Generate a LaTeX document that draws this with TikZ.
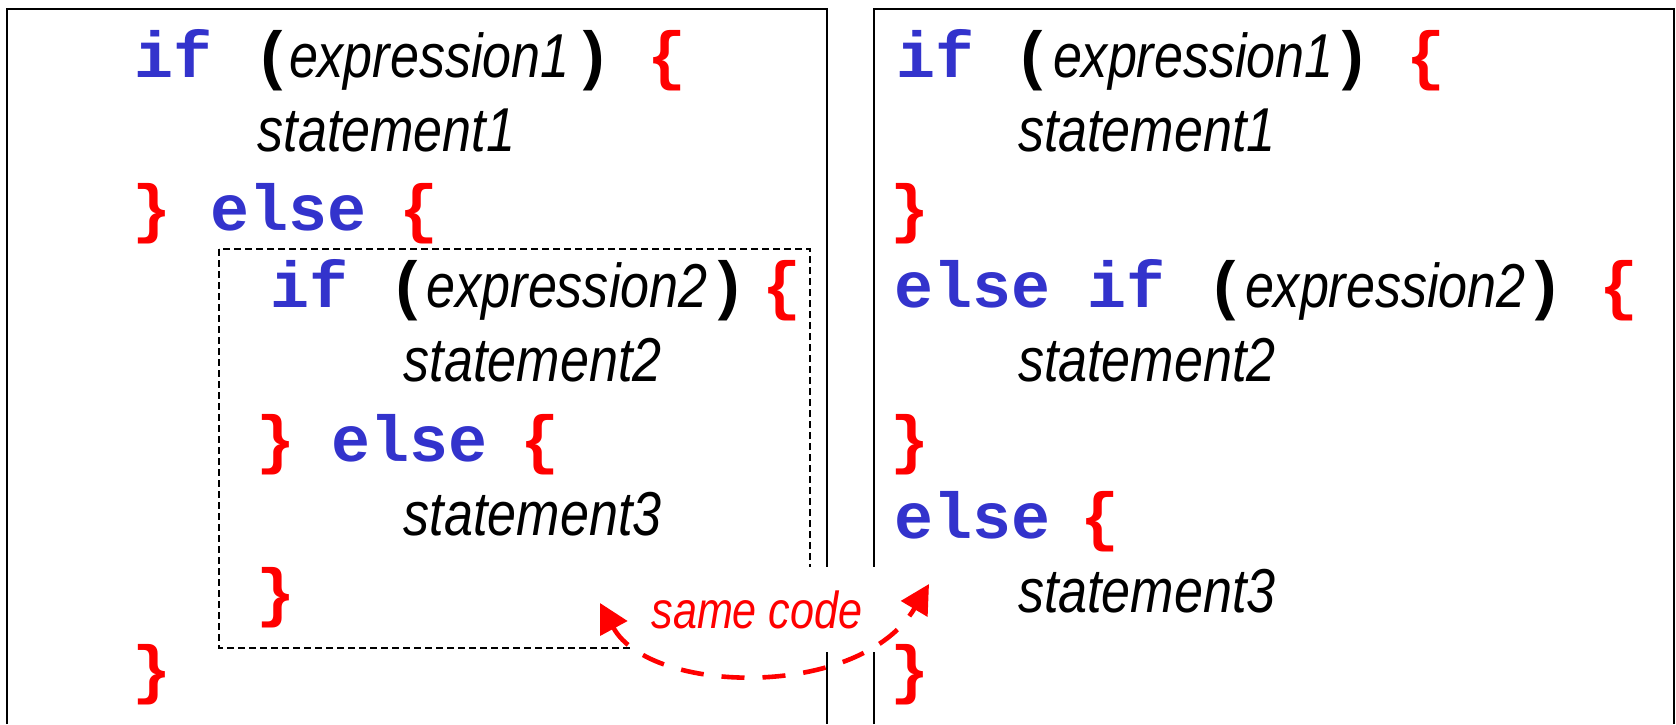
\documentclass[tikz,border=0pt]{standalone}
\usepackage{fontspec}
\usetikzlibrary{arrows.meta}
\newfontfamily\kwfont{Liberation Mono}
\newfontfamily\exfont{Liberation Sans}[FakeStretch=0.84]
\newfontfamily\lblfont{Liberation Sans}[FakeStretch=0.83]
\definecolor{kwblue}{RGB}{51,51,204}
\definecolor{codered}{RGB}{255,0,0}
\begin{document}
\begin{tikzpicture}[x=0.5pt,y=-0.5pt,
  tok/.style={anchor=base west, inner sep=0pt, outer sep=0pt},
  kw/.style={tok, text=kwblue, font=\kwfont\bfseries\fontsize{32.5}{39}\selectfont},
  brc/.style={tok, text=codered, font=\kwfont\bfseries\fontsize{32.5}{39}\selectfont},
  par/.style={tok, text=black, font=\kwfont\bfseries\fontsize{32.5}{39}\selectfont},
  ex/.style={tok, text=black, font=\exfont\itshape\fontsize{31}{37}\selectfont},
  frame/.style={draw=black, line width=1pt},
  dbox/.style={draw=black, line width=0.6pt, dash pattern=on 3.5pt off 2pt},
  lbl/.style={fill=white, inner sep=0pt, minimum width=126.5pt, minimum height=42.5pt,
    text=codered, font=\lblfont\itshape\fontsize{26}{31}\selectfont},
  samearrow/.style={draw=codered, line width=2.3pt, dash pattern=on 11.5pt off 9pt,
    {Triangle[length=14.5pt,width=15pt]}-{Triangle[length=14.5pt,width=15pt]}}
]
\useasboundingbox (0,0) rectangle (1676,724);
\fill[white] (0,0) rectangle (1676,724);

% frames (open at the bottom)
\draw[frame] (7,724) -- (7,9) -- (826.5,9) -- (826.5,724);
\draw[frame] (874,724) -- (874,9) -- (1673.5,9) -- (1673.5,724);
% dashed box round the nested if
\draw[dbox] (219,249) rectangle (810,648);

% ---------- left panel ----------
\node[kw]  (a1if)  at (134.3,77.3) {if};
\node[par] (a1op)  at (253.8,77.3) {(};
\node[ex]  (a1ex)  at (289,77.3)   {expression1};
\node[par] (a1cp)  at (573,77.3)   {)};
\node[brc] (a1ob)  at (647,77.3)   {\{};
\node[ex]  (a2st)  at (257.6,151.7) {statement1};
\node[brc] (a3cb)  at (132.5,230.9) {\}};
\node[kw]  (a3el)  at (210.7,230.9) {else};
\node[brc] (a3ob)  at (399,230.9)   {\{};
\node[kw]  (a4if)  at (270.5,307.7) {if};
\node[par] (a4op)  at (388.5,307.7) {(};
\node[ex]  (a4ex)  at (426.7,307.7) {expression2};
\node[par] (a4cp)  at (708.8,307.7) {)};
\node[brc] (a4ob)  at (762.7,307.7) {\{};
\node[ex]  (a5st)  at (403.8,381.7) {statement2};
\node[brc] (a6cb)  at (256,461.3)   {\}};
\node[kw]  (a6el)  at (331.6,461.3) {else};
\node[brc] (a6ob)  at (520.3,461.3) {\{};
\node[ex]  (a7st)  at (403.8,535.6) {statement3};
\node[brc] (a8cb)  at (256,614.9)   {\}};
\node[brc] (a9cb)  at (132.5,691.7) {\}};

% ---------- right panel ----------
\node[kw]  (b1if)  at (896,77.3)    {if};
\node[par] (b1op)  at (1013.5,77.3) {(};
\node[ex]  (b1ex)  at (1053,77.3)   {expression1};
\node[par] (b1cp)  at (1332.5,77.3) {)};
\node[brc] (b1ob)  at (1406,77.3)   {\{};
\node[ex]  (b2st)  at (1018,151.7)  {statement1};
\node[brc] (b3cb)  at (890,230.9)   {\}};
\node[kw]  (b4el)  at (894.7,307.7) {else};
\node[kw]  (b4if)  at (1087,307.7)  {if};
\node[par] (b4op)  at (1206.5,307.7) {(};
\node[ex]  (b4ex)  at (1245,307.7)  {expression2};
\node[par] (b4cp)  at (1525.5,307.7) {)};
\node[brc] (b4ob)  at (1599,307.7)  {\{};
\node[ex]  (b5st)  at (1018,381.7)  {statement2};
\node[brc] (b6cb)  at (890,461.3)   {\}};
\node[kw]  (b7el)  at (894.7,538.1) {else};
\node[brc] (b7ob)  at (1080,538.1)  {\{};
\node[ex]  (b8st)  at (1018,612.4)  {statement3};
\node[brc] (b9cb)  at (890,691.7)   {\}};

% ---------- "same code" label and arrow ----------
\node[lbl] (same) at (757,609.5) {same code};
\coordinate (tipL) at (600,603);
\coordinate (tipR) at (929,584);
\draw[samearrow] (tipL) .. controls (650,695) and (860,700) .. (tipR);
\end{tikzpicture}
\end{document}
